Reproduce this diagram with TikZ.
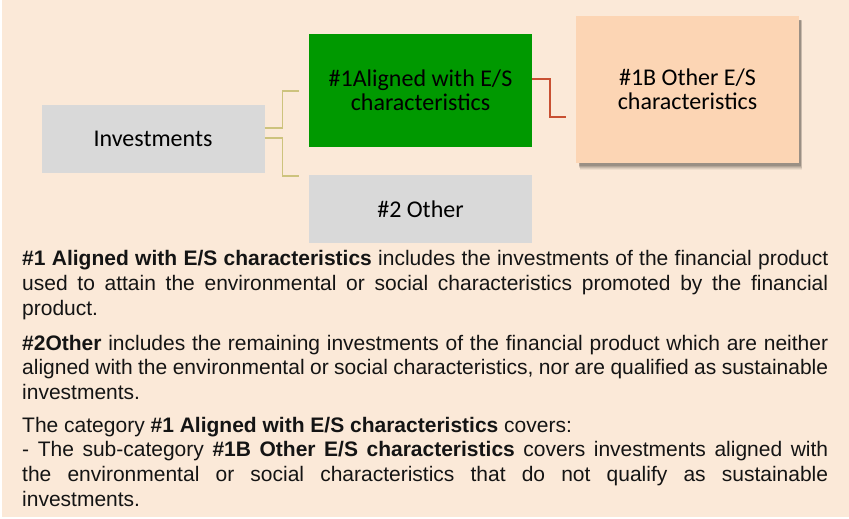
\documentclass[tikz,border=0pt]{standalone}
\usepackage{fontspec}
\setmainfont{Liberation Sans}
\newfontfamily\boxfont{Carlito}
\definecolor{bgpeach}{RGB}{251,233,216}
\definecolor{boxgray}{RGB}{217,217,217}
\definecolor{boxgreen}{RGB}{0,153,0}
\definecolor{boxpeach}{RGB}{252,213,180}
\definecolor{yline}{RGB}{205,195,125}
\definecolor{rline}{RGB}{200,80,50}
\definecolor{bodytext}{RGB}{20,20,20}
\newcommand{\parafont}{\fontsize{21}{24.8}\selectfont\spaceskip=0.278em plus 0.6em minus 0.12em\relax}
\tikzset{
  catbox/.style={draw=none, minimum width=223pt, inner sep=0pt, align=center,
    font=\boxfont\fontsize{24}{24.5}\selectfont, text=black},
  yconn/.style={draw=yline, line width=1.4pt},
  rconn/.style={draw=rline, line width=1.6pt},
  para/.style={anchor=base west, inner sep=0pt, text width=806pt, align=justify,
    font=\parafont, text=bodytext}
}
\begin{document}
\begin{tikzpicture}[x=1pt,y=-1pt]
\useasboundingbox (0,0) rectangle (849,519);
\fill[white] (0,0) rectangle (849,519);
\fill[bgpeach] (2,0) rectangle (849,517);
% shadow of #1B box
\foreach \d/\o in {6/0.05,5/0.07,4/0.09,3/0.11,2/0.13}{
  \fill[black,opacity=\o] (578+\d*0.3,19+\d*0.3) rectangle (800+\d*0.4,164+\d);
}
\node[catbox, fill=boxgray, minimum height=68pt] (inv) at (153,139) {Investments};
\node[catbox, fill=boxgreen, minimum height=113pt] (al) at (420.5,90.5) {\#1Aligned with E/S\\characteristics};
\node[catbox, fill=boxgray, minimum height=68pt] (oth) at (420.5,209) {\#2 Other};
\node[catbox, fill=boxpeach, minimum height=147pt] (b1) at (687.5,89.5) {\#1B Other E/S\\characteristics};
\coordinate (yend1) at (299,91);
\coordinate (yend2) at (299,176);
\coordinate (rend) at (566,117);
\draw[yconn] ([yshift=11pt]inv.east) -- ++(18,0) |- (yend1);
\draw[yconn] ([yshift=1pt]inv.east) -- ++(18,0) |- (yend2);
\draw[rconn] ([yshift=11.5pt]al.east) -- ++(18,0) |- (rend);
\node[para] (p1) at (22,265.5) {\textbf{\#1 Aligned with E/S characteristics} includes the investments of the financial product\linebreak used to attain the environmental or social characteristics promoted by the financial\linebreak product.};
\node[para] (p2) at (22,350) {\textbf{\#2Other} includes the remaining investments of the financial product which are neither\linebreak aligned with the environmental or social characteristics, nor are qualified as sustainable\linebreak investments.};
\node[para] (p3) at (22,432) {The category \textbf{\#1 Aligned with E/S characteristics} covers:\\- The sub-category \textbf{\#1B Other E/S characteristics} covers investments aligned with\linebreak the environmental or social characteristics that do not qualify as sustainable\linebreak investments.};
\end{tikzpicture}
\end{document}
